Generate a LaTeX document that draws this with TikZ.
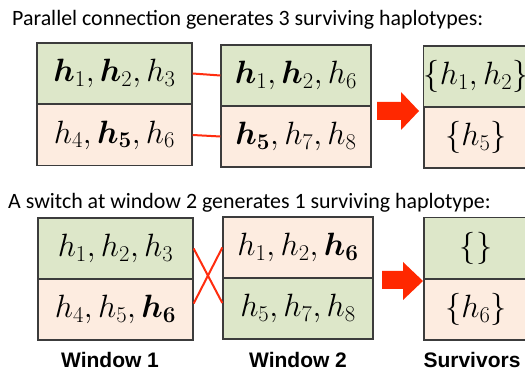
\RequirePackage{fix-cm}
\documentclass[tikz,border=0pt]{standalone}
\usepackage{amsmath,bm}
\usepackage{fontspec}
\setmainfont{Carlito}
\newfontfamily\labelfont{Liberation Sans}
\definecolor{cellgreen}{RGB}{221,231,201}
\definecolor{cellpeach}{RGB}{253,236,224}
\definecolor{boxgray}{RGB}{60,60,60}
\definecolor{linkred}{RGB}{255,45,15}
\definecolor{arrowred}{RGB}{255,40,0}
% haplotype list in large math
\newcommand{\haptext}[1]{\scalebox{1.075}{\fontsize{30}{34}\selectfont$#1$}}
\begin{document}
\begin{tikzpicture}[x=1pt,y=-1pt,
  cell/.style={draw=boxgray, line width=1.3pt, inner sep=0pt, minimum height=61pt},
  green/.style={cell, fill=cellgreen},
  peach/.style={cell, fill=cellpeach},
  winA/.style={minimum width=155pt},
  winB/.style={minimum width=150pt},
  winC/.style={minimum width=104pt},
  link/.style={draw=linkred, line width=2pt},
  heading/.style={anchor=base west, inner sep=0pt, font=\fontsize{21.9}{26}\selectfont},
  caption/.style={anchor=base, inner sep=0pt, font=\labelfont\bfseries\fontsize{21}{24}\selectfont}]
\useasboundingbox (0,0) rectangle (525,371);
\clip (0,0) rectangle (525,371);
\fill[white] (0,0) rectangle (525,371);

% parallel connection
\node[heading] (t1) at (12,26) {Parallel connection generates 3 surviving haplotypes:};
\node[green, winA] (a1) at (114.5,73.5) {\haptext{\bm{h}_1,\bm{h}_2,h_3}};
\node[peach, winA] (a2) at (114.5,135) {\haptext{h_4,\bm{h_5},h_6}};
\node[green, winB] (b1) at (296,75.5) {\haptext{\bm{h}_1,\bm{h}_2,h_6}};
\node[peach, winB] (b2) at (296,136.5) {\haptext{\bm{h_5},h_7,h_8}};
\node[green, winC] (c1) at (476,76.5) {\haptext{\{h_1,h_2\}}};
\node[peach, winC] (c2) at (476,137.5) {\haptext{\{h_5\}}};
\draw[link] (a1.east) -- (b1.west);
\draw[link] (a2.east) -- (b2.west);
\fill[arrowred] (377,102) -- (401,102) -- (401,92) -- (419,111) -- (401,130) -- (401,120) -- (377,120) -- cycle;

% switch at window 2
\node[heading] (t2) at (8,209) {A switch at window 2 generates 1 surviving haplotype:};
\node[green, winA] (d1) at (115.5,248.5) {\haptext{h_1,h_2,h_3}};
\node[peach, winA] (d2) at (115.5,309.5) {\haptext{h_4,h_5,\bm{h_6}}};
\node[peach, winB] (e1) at (298,247.5) {\haptext{h_1,h_2,\bm{h_6}}};
\node[green, winB] (e2) at (298,308.5) {\haptext{h_5,h_7,h_8}};
\node[green, winC] (f1) at (476,248) {\haptext{\{\}}};
\node[peach, winC] (f2) at (476,309.5) {\haptext{\{h_6\}}};
\draw[link] (d1.east) -- ([yshift=5.5pt]e2.west);
\draw[link] ([yshift=6pt]d2.east) -- (e1.west);
\fill[arrowred] (382,271) -- (403,271) -- (403,262) -- (423,281) -- (403,300) -- (403,289) -- (382,289) -- cycle;

% column captions
\node[caption] (w1) at (110,367) {Window 1};
\node[caption] (w2) at (298,367) {Window 2};
\node[caption] (w3) at (472,367) {Survivors};
\end{tikzpicture}
\end{document}
